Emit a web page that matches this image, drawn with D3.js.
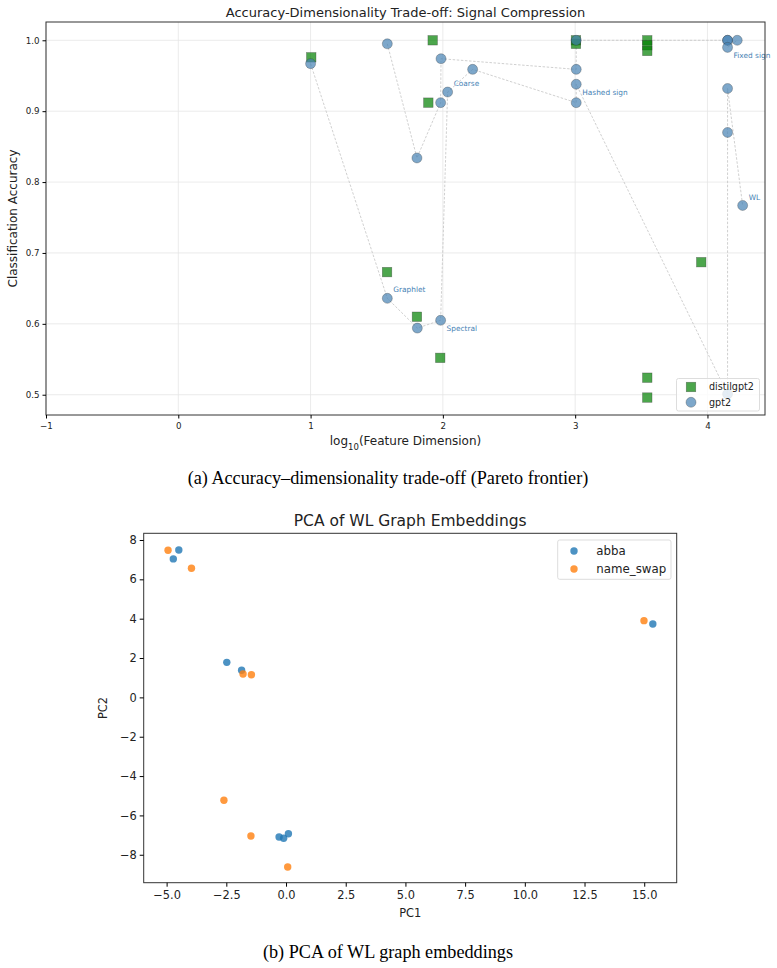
<!DOCTYPE html>
<html>
<head>
<meta charset="utf-8">
<title>Signal compression + PCA</title>
<script src="https://cdn.jsdelivr.net/npm/d3@7"></script>
<style>
  body { margin: 0; background: #fff; }
  text { font-family: "DejaVu Sans", sans-serif; fill: #222; }
  .cap { font-family: "Liberation Serif", "Times New Roman", serif; fill: #000; }
  .grid line { stroke: #e6e6e6; stroke-width: 0.8; }
</style>
</head>
<body>
<svg width="777" height="968"></svg>
<script>
// ---- (a) accuracy vs log10(dim) ----
// distilgpt2 points
var distilX = [1.005, 1.923, 1.89, 3.006, 3.006, 3.545, 3.545, 3.545, 3.953, 3.545, 3.545, 1.578, 1.804, 1.98];
var distilY = [0.976, 1.000, 0.912, 1.000, 0.995, 1.000, 0.993, 0.985, 0.687, 0.524, 0.496, 0.673, 0.610, 0.552];

// gpt2 points, two dashed chains in plot order
var gptChainA = [[1.00,0.967],[1.58,0.636],[1.807,0.594],[1.983,0.605],[2.036,0.927],[2.225,0.959],
                 [3.008,0.912],[3.008,0.938],[4.152,0.501],[4.152,0.870],[4.152,0.932],[4.266,0.767]];
var gptChainB = [[1.58,0.995],[1.804,0.834],[1.983,0.912],[1.986,0.974],[3.008,0.959],[3.008,1.000],
                 [4.152,1.000],[4.152,1.000],[4.152,0.990],[4.225,1.000]];

// method labels: [name, chain, index in chain]
var methodLabels = [["Graphlet","A",1],["Spectral","A",3],["Coarse","A",4],
                    ["Hashed sign","A",7],["Fixed sign","B",8],["WL","A",11]];

var xTicksA = [-1, 0, 1, 2, 3, 4];
var yTicksA = [0.5, 0.6, 0.7, 0.8, 0.9, 1.0];

// ---- (b) PCA ----
var abbaX = [-4.49, -4.72, -2.48, -1.86, 15.36, -0.29, -0.10, 0.10];
var abbaY = [7.49, 7.04, 1.78, 1.38, 3.73, -7.10, -7.16, -6.93];
var swapX = [-4.94, -3.96, -1.80, -1.45, 14.99, -2.60, -1.47, 0.07];
var swapY = [7.48, 6.56, 1.19, 1.15, 3.90, -5.23, -7.05, -8.62];
var xTicksB = [-5, -2.5, 0, 2.5, 5, 7.5, 10, 12.5, 15];
var yTicksB = [-8, -6, -4, -2, 0, 2, 4, 6, 8];

var svg = d3.select("svg");
var fmtMinus = function(s) { return s.replace("-", "\u2212"); };

// ================= chart A =================
var A = {l: 46, r: 765, t: 22, b: 415};
var xA = d3.scaleLinear().domain([-1, 4.435]).range([A.l, A.r]);
var yA = d3.scaleLinear().domain([0.4714, 1.0258]).range([A.b, A.t]);
var gA = svg.append("g");

// grid
gA.append("g").attr("class","grid").selectAll("line").data(xTicksA).enter().append("line")
  .attr("x1", d => xA(d)).attr("x2", d => xA(d)).attr("y1", A.t).attr("y2", A.b);
gA.append("g").attr("class","grid").selectAll("line").data(yTicksA).enter().append("line")
  .attr("y1", d => yA(d)).attr("y2", d => yA(d)).attr("x1", A.l).attr("x2", A.r);

// dashed chains
var lineA = d3.line().x(d => xA(d[0])).y(d => yA(d[1]));
[gptChainA, gptChainB].forEach(function(ch) {
  gA.append("path").attr("d", lineA(ch))
    .attr("fill","none").attr("stroke","#c4c4c4").attr("stroke-width",0.8)
    .attr("stroke-dasharray","2.5,1.6");
});

// squares
var sq = 9.5;
gA.append("g").selectAll("rect").data(d3.range(distilX.length)).enter().append("rect")
  .attr("x", i => xA(distilX[i]) - sq/2).attr("y", i => yA(distilY[i]) - sq/2)
  .attr("width", sq).attr("height", sq)
  .attr("fill","green").attr("fill-opacity",0.7)
  .attr("stroke","#333").attr("stroke-opacity",0.5).attr("stroke-width",0.6);

// circles
var gpt = gptChainA.concat(gptChainB);
gA.append("g").selectAll("circle").data(gpt).enter().append("circle")
  .attr("cx", d => xA(d[0])).attr("cy", d => yA(d[1])).attr("r", 5)
  .attr("fill","steelblue").attr("fill-opacity",0.7)
  .attr("stroke","#333").attr("stroke-opacity",0.5).attr("stroke-width",0.6);

// method labels
var labelSide = {"Graphlet": -1, "Spectral": 1, "Coarse": -1, "Hashed sign": 1, "Fixed sign": 1, "WL": -1};
gA.append("g").selectAll("text").data(methodLabels).enter().append("text")
  .attr("x", d => xA((d[1]=="A" ? gptChainA : gptChainB)[d[2]][0]) + 6)
  .attr("y", d => yA((d[1]=="A" ? gptChainA : gptChainB)[d[2]][1]) + labelSide[d[0]]*8.5)
  .attr("dy","0.35em").style("font-size","7.4px").style("fill","steelblue")
  .text(d => d[0]);

// frame + ticks
gA.append("rect").attr("x",A.l).attr("y",A.t).attr("width",A.r-A.l).attr("height",A.b-A.t)
  .attr("fill","none").attr("stroke","#333").attr("stroke-width",1);
gA.append("g").attr("transform","translate(0,"+A.b+")")
  .call(d3.axisBottom(xA).tickValues(xTicksA).tickSize(3.5).tickFormat(d => fmtMinus(String(d))))
  .call(g => g.select(".domain").remove())
  .call(g => g.selectAll("text").style("font-size","8.7px").attr("dy","0.9em"));
gA.append("g").attr("transform","translate("+A.l+",0)")
  .call(d3.axisLeft(yA).tickValues(yTicksA).tickSize(3.5).tickFormat(d3.format(".1f")))
  .call(g => g.select(".domain").remove())
  .call(g => g.selectAll("text").style("font-size","8.7px"));

// legend
var lg = gA.append("g");
lg.append("rect").attr("x",676.5).attr("y",378.5).attr("width",83).attr("height",32.5).attr("rx",2)
  .attr("fill","#fff").attr("fill-opacity",0.8).attr("stroke","#ddd");
lg.append("rect").attr("x",691-sq/2).attr("y",387-sq/2).attr("width",sq).attr("height",sq)
  .attr("fill","green").attr("fill-opacity",0.7).attr("stroke","#333").attr("stroke-opacity",0.5).attr("stroke-width",0.6);
lg.append("circle").attr("cx",691).attr("cy",402.3).attr("r",5)
  .attr("fill","steelblue").attr("fill-opacity",0.7).attr("stroke","#333").attr("stroke-opacity",0.5).attr("stroke-width",0.6);
lg.append("text").attr("x",709).attr("y",387).attr("dy","0.35em").style("font-size","9.6px").text("distilgpt2");
lg.append("text").attr("x",709).attr("y",402.3).attr("dy","0.35em").style("font-size","9.6px").text("gpt2");

// titles
gA.append("text").attr("x",(A.l+A.r)/2).attr("y",16.5).attr("text-anchor","middle")
  .style("font-size","13px").text("Accuracy-Dimensionality Trade-off: Signal Compression");
var xl = gA.append("text").attr("x",(A.l+A.r)/2).attr("y",445).attr("text-anchor","middle").style("font-size","12px");
xl.append("tspan").text("log");
xl.append("tspan").attr("baseline-shift","sub").style("font-size","8.5px").text("10");
xl.append("tspan").text("(Feature Dimension)");
gA.append("text").attr("transform","translate(17,"+((A.t+A.b)/2)+") rotate(-90)")
  .attr("text-anchor","middle").style("font-size","12px").text("Classification Accuracy");

svg.append("text").attr("class","cap").attr("x",388).attr("y",484).attr("text-anchor","middle")
  .style("font-size","18.2px").text("(a) Accuracy\u2013dimensionality trade-off (Pareto frontier)");

// ================= chart B =================
var B = {l: 143.7, r: 676.7, t: 533.3, b: 882.7};
var xB = d3.scaleLinear().domain([-5.96, 16.36]).range([B.l, B.r]);
var yB = d3.scaleLinear().domain([-9.42, 8.34]).range([B.b, B.t]);
var gB = svg.append("g");

gB.append("g").selectAll("circle").data(d3.range(abbaX.length)).enter().append("circle")
  .attr("cx", i => xB(abbaX[i])).attr("cy", i => yB(abbaY[i])).attr("r", 3.7)
  .attr("fill","#1f77b4").attr("fill-opacity",0.8);
gB.append("g").selectAll("circle").data(d3.range(swapX.length)).enter().append("circle")
  .attr("cx", i => xB(swapX[i])).attr("cy", i => yB(swapY[i])).attr("r", 3.7)
  .attr("fill","#ff7f0e").attr("fill-opacity",0.8);

gB.append("rect").attr("x",B.l).attr("y",B.t).attr("width",B.r-B.l).attr("height",B.b-B.t)
  .attr("fill","none").attr("stroke","#333").attr("stroke-width",1);
gB.append("g").attr("transform","translate(0,"+B.b+")")
  .call(d3.axisBottom(xB).tickValues(xTicksB).tickSize(4).tickFormat(d => fmtMinus(d3.format(".1f")(d))))
  .call(g => g.select(".domain").remove())
  .call(g => g.selectAll("text").style("font-size","11.4px").attr("dy","0.8em"));
gB.append("g").attr("transform","translate("+B.l+",0)")
  .call(d3.axisLeft(yB).tickValues(yTicksB).tickSize(4).tickFormat(d => fmtMinus(String(d))))
  .call(g => g.select(".domain").remove())
  .call(g => g.selectAll("text").style("font-size","11.4px"));

var lb = gB.append("g");
lb.append("rect").attr("x",557.7).attr("y",540).attr("width",113.3).attr("height",39.3).attr("rx",2)
  .attr("fill","#fff").attr("fill-opacity",0.8).attr("stroke","#ddd");
lb.append("circle").attr("cx",574).attr("cy",551).attr("r",3.7).attr("fill","#1f77b4").attr("fill-opacity",0.8);
lb.append("circle").attr("cx",574).attr("cy",569).attr("r",3.7).attr("fill","#ff7f0e").attr("fill-opacity",0.8);
lb.append("text").attr("x",596.3).attr("y",551).attr("dy","0.35em").style("font-size","11.8px").text("abba");
lb.append("text").attr("x",596.3).attr("y",569).attr("dy","0.35em").style("font-size","11.8px").text("name_swap");

gB.append("text").attr("x",(B.l+B.r)/2).attr("y",526).attr("text-anchor","middle")
  .style("font-size","15.5px").text("PCA of WL Graph Embeddings");
gB.append("text").attr("x",(B.l+B.r)/2).attr("y",917).attr("text-anchor","middle")
  .style("font-size","11.4px").text("PC1");
gB.append("text").attr("transform","translate(107,"+((B.t+B.b)/2)+") rotate(-90)")
  .attr("text-anchor","middle").style("font-size","11.4px").text("PC2");

svg.append("text").attr("class","cap").attr("x",388).attr("y",958).attr("text-anchor","middle")
  .style("font-size","18.2px").text("(b) PCA of WL graph embeddings");
</script>
</body>
</html>
